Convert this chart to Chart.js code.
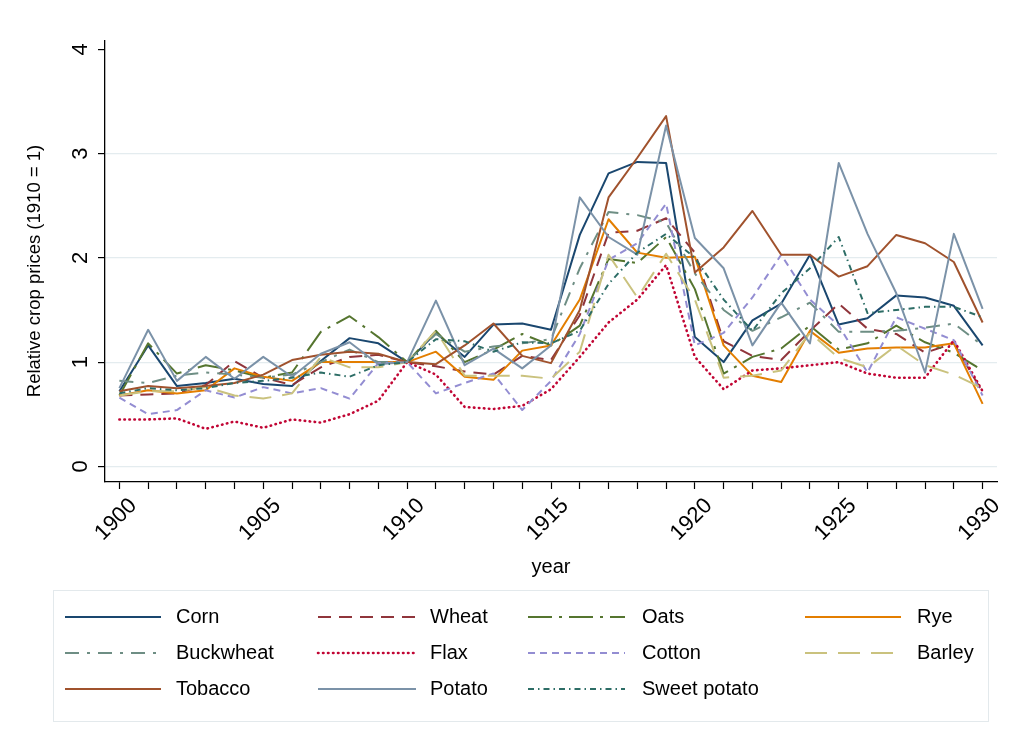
<!DOCTYPE html>
<html>
<head>
<meta charset="utf-8">
<title>Relative crop prices, 1900-1930</title>
<script src="https://cdn.jsdelivr.net/npm/chart.js@4.4.1/dist/chart.umd.min.js"></script>
<style>
  html, body { margin: 0; padding: 0; background: #ffffff; }
  #wrap { width: 1010px; height: 740px; position: relative; }
</style>
</head>
<body>
<div id="wrap"><canvas id="chart" width="1010" height="740"></canvas></div>
<script>
// ---- data: relative crop prices (1910 = 1) ----
const years = [1900, 1901, 1902, 1903, 1904, 1905, 1906, 1907, 1908, 1909,
               1910, 1911, 1912, 1913, 1914, 1915, 1916, 1917, 1918, 1919,
               1920, 1921, 1922, 1923, 1924, 1925, 1926, 1927, 1928, 1929, 1930];

const corn        = [0.72, 1.16, 0.77, 0.80, 0.84, 0.79, 0.77, 1.01, 1.23, 1.18, 1.00, 1.28, 1.05, 1.36, 1.37, 1.31, 2.22, 2.81, 2.92, 2.91, 1.24, 1.00, 1.40, 1.56, 2.03, 1.36, 1.42, 1.64, 1.62, 1.54, 1.16];
const wheat       = [0.68, 0.69, 0.70, 0.78, 1.01, 0.85, 0.78, 0.95, 1.05, 1.07, 1.00, 0.96, 0.91, 0.88, 1.06, 1.02, 1.45, 2.24, 2.26, 2.38, 2.05, 1.20, 1.06, 1.02, 1.30, 1.56, 1.32, 1.27, 1.09, 1.18, 0.71];
const oats        = [0.68, 1.18, 0.89, 0.97, 0.92, 0.85, 0.90, 1.29, 1.44, 1.24, 1.00, 1.30, 1.00, 1.12, 1.27, 1.16, 1.35, 1.99, 1.95, 2.20, 1.70, 0.89, 1.05, 1.13, 1.35, 1.12, 1.18, 1.35, 1.19, 1.09, 0.92];
const rye         = [0.68, 0.73, 0.70, 0.73, 0.94, 0.86, 0.82, 1.00, 1.00, 1.00, 1.00, 1.10, 0.86, 0.83, 1.11, 1.16, 1.60, 2.37, 2.05, 2.00, 2.01, 1.16, 0.87, 0.81, 1.30, 1.09, 1.13, 1.14, 1.14, 1.18, 0.60];
const buckwheat   = [0.82, 0.80, 0.87, 0.90, 0.88, 0.85, 0.88, 1.00, 1.12, 1.00, 1.00, 1.27, 1.10, 1.15, 1.18, 1.22, 1.90, 2.44, 2.41, 2.34, 1.85, 1.50, 1.30, 1.43, 1.57, 1.29, 1.29, 1.30, 1.33, 1.37, 1.16];
const flax        = [0.45, 0.45, 0.46, 0.36, 0.43, 0.37, 0.45, 0.42, 0.50, 0.63, 1.00, 0.88, 0.57, 0.55, 0.58, 0.74, 1.05, 1.38, 1.60, 1.93, 1.05, 0.74, 0.92, 0.94, 0.97, 1.00, 0.89, 0.85, 0.85, 1.21, 0.72];
const cotton      = [0.66, 0.50, 0.54, 0.73, 0.66, 0.76, 0.70, 0.75, 0.65, 0.99, 1.00, 0.70, 0.80, 0.89, 0.54, 0.82, 1.27, 1.98, 2.14, 2.52, 1.16, 1.28, 1.62, 2.03, 1.60, 1.35, 0.90, 1.43, 1.32, 1.21, 0.68];
const barley      = [0.68, 0.72, 0.72, 0.76, 0.68, 0.65, 0.70, 1.05, 0.95, 0.95, 1.00, 1.30, 0.87, 0.87, 0.87, 0.84, 1.10, 2.03, 1.62, 2.04, 1.60, 0.85, 0.87, 0.92, 1.28, 1.04, 0.95, 1.16, 0.97, 0.88, 0.75];
const tobacco     = [0.72, 0.77, 0.75, 0.77, 0.80, 0.88, 1.02, 1.07, 1.10, 1.08, 1.00, 0.98, 1.16, 1.37, 1.06, 0.99, 1.50, 2.58, 2.96, 3.36, 1.86, 2.10, 2.45, 2.03, 2.03, 1.82, 1.92, 2.22, 2.14, 1.96, 1.38];
const potato      = [0.75, 1.31, 0.82, 1.05, 0.84, 1.05, 0.86, 1.08, 1.19, 0.98, 1.00, 1.59, 0.97, 1.13, 0.94, 1.16, 2.58, 2.20, 2.03, 3.27, 2.19, 1.90, 1.16, 1.57, 1.18, 2.91, 2.23, 1.66, 0.90, 2.23, 1.51];
const sweetPotato = [0.70, 0.75, 0.73, 0.75, 0.80, 0.82, 0.85, 0.90, 0.86, 0.97, 1.00, 1.22, 1.20, 1.10, 1.19, 1.18, 1.30, 1.75, 2.05, 2.23, 2.00, 1.60, 1.30, 1.66, 1.90, 2.20, 1.47, 1.50, 1.53, 1.53, 1.43];

const seriesNames = ['Corn', 'Wheat', 'Oats', 'Rye', 'Buckwheat', 'Flax', 'Cotton', 'Barley', 'Tobacco', 'Potato', 'Sweet potato'];
const xTickYears = [1900, 1905, 1910, 1915, 1920, 1925, 1930];
const yTicks = [0, 1, 2, 3, 4];
const yTitle = 'Relative crop prices (1910 = 1)';

// ---- styling ----
const FONT = '"Liberation Sans", Arial, Helvetica, sans-serif';
const seriesValues = [corn, wheat, oats, rye, buckwheat, flax, cotton, barley, tobacco, potato, sweetPotato];
const seriesColors = ['#1a476f', '#90353b', '#55752f', '#e37e00', '#6e8e84', '#c10534',
                      '#938dd2', '#cac27e', '#a0522d', '#7b92a8', '#2d6d66'];
const seriesDash = [
  [],             // solid
  [13, 8],        // dash
  [24, 7, 3, 7],  // long dash-dot
  [],             // solid
  [14, 8, 3, 8],  // dash-dot
  [0.5, 4.5],     // dot
  [7, 5],         // short dash
  [22, 11],       // long dash
  [],             // solid
  [],             // solid
  [6, 4, 1.5, 4]  // short dash-dot
];

const datasets = seriesNames.map((name, i) => ({
  label: name,
  data: years.map((yr, k) => ({ x: yr, y: seriesValues[i][k] })),
  borderColor: seriesColors[i],
  backgroundColor: seriesColors[i],
  borderWidth: i === 5 ? 2.6 : 2,
  borderDash: seriesDash[i],
  borderCapStyle: i === 5 ? 'round' : 'butt',
  borderJoinStyle: 'round',
  pointRadius: 0,
  pointHoverRadius: 0,
  tension: 0,
  fill: false,
  order: seriesNames.length - i
}));

// rotated y tick labels, y title and the boxed legend
const decorations = {
  id: 'decorations',
  beforeDraw(chart) {
    const ctx = chart.ctx;
    ctx.save();
    ctx.fillStyle = '#ffffff';
    ctx.fillRect(0, 0, chart.width, chart.height);
    ctx.restore();
  },
  afterDraw(chart) {
    const ctx = chart.ctx;
    const ys = chart.scales.y;
    ctx.save();
    ctx.fillStyle = '#000000';
    ctx.textAlign = 'center';
    ctx.textBaseline = 'middle';
    ctx.font = '22px ' + FONT;
    ys.ticks.forEach(t => {
      const py = ys.getPixelForValue(t.value);
      ctx.save();
      ctx.translate(81, py);
      ctx.rotate(-Math.PI / 2);
      ctx.fillText(String(t.value), 0, 0);
      ctx.restore();
    });
    ctx.font = '18.5px ' + FONT;
    ctx.save();
    ctx.translate(35, 271);
    ctx.rotate(-Math.PI / 2);
    ctx.fillText(yTitle, 0, 0);
    ctx.restore();
    ctx.restore();

    // legend
    const box = { x: 53.5, y: 590.5, w: 935, h: 131 };
    const colSample = [[65, 161], [318, 416], [528, 625], [805, 901]];
    const colText = [176, 430, 642, 917];
    const rowY = [617, 653, 689];
    ctx.save();
    ctx.strokeStyle = '#e3e9ec';
    ctx.lineWidth = 1;
    ctx.strokeRect(box.x, box.y, box.w, box.h);
    ctx.font = '20px ' + FONT;
    ctx.textBaseline = 'middle';
    ctx.textAlign = 'left';
    chart.data.datasets.forEach((ds, i) => {
      const r = Math.floor(i / 4), c = i % 4;
      const y = rowY[r];
      ctx.save();
      ctx.strokeStyle = ds.borderColor;
      ctx.lineWidth = ds.borderWidth;
      ctx.lineCap = ds.borderCapStyle;
      ctx.setLineDash(ds.borderDash);
      ctx.beginPath();
      ctx.moveTo(colSample[c][0], y);
      ctx.lineTo(colSample[c][1], y);
      ctx.stroke();
      ctx.restore();
      ctx.fillStyle = '#000000';
      ctx.fillText(ds.label, colText[c], y);
    });
    ctx.restore();
  }
};

new Chart(document.getElementById('chart'), {
  type: 'line',
  data: { datasets },
  plugins: [decorations],
  options: {
    responsive: false,
    animation: false,
    devicePixelRatio: 1,
    layout: { padding: { top: 41, right: 13, bottom: 158, left: 0 } },
    plugins: {
      legend: { display: false },
      tooltip: { enabled: false }
    },
    scales: {
      x: {
        type: 'linear',
        min: 1899.5,
        max: 1930.5,
        afterBuildTicks(scale) {
          scale.ticks = years.map(v => ({ value: v }));
        },
        afterFit(scale) {
          scale.height = 100;
          scale.paddingLeft = 0;
          scale.paddingRight = 0;
        },
        ticks: {
          autoSkip: false,
          minRotation: 45,
          maxRotation: 45,
          padding: 4,
          labelOffset: 14,
          color: '#000000',
          font: { family: FONT, size: 22 },
          callback: v => (xTickYears.includes(v) ? String(v) : '')
        },
        grid: {
          drawOnChartArea: false,
          drawTicks: true,
          tickLength: 7,
          tickWidth: 1.2,
          tickColor: '#000000'
        },
        border: { display: true, color: '#000000', width: 1.3 },
        title: {
          display: true,
          text: 'year',
          color: '#000000',
          font: { family: FONT, size: 20 },
          padding: { top: 0, bottom: 3 }
        }
      },
      y: {
        type: 'linear',
        min: -0.15,
        max: 4.08,
        afterBuildTicks(scale) {
          scale.ticks = yTicks.map(v => ({ value: v }));
        },
        afterFit(scale) {
          scale.width = 105;
          scale.paddingTop = 0;
          scale.paddingBottom = 0;
        },
        ticks: { display: false },
        grid: {
          drawOnChartArea: true,
          drawTicks: true,
          tickLength: 7,
          tickWidth: 1.2,
          tickColor: '#000000',
          lineWidth: 1.2,
          color: ctx => (ctx.tick && ctx.tick.value === 4 ? 'rgba(0,0,0,0)' : '#e4ecef')
        },
        border: { display: true, color: '#000000', width: 1.3 },
        title: { display: false }
      }
    }
  }
});
</script>
</body>
</html>
